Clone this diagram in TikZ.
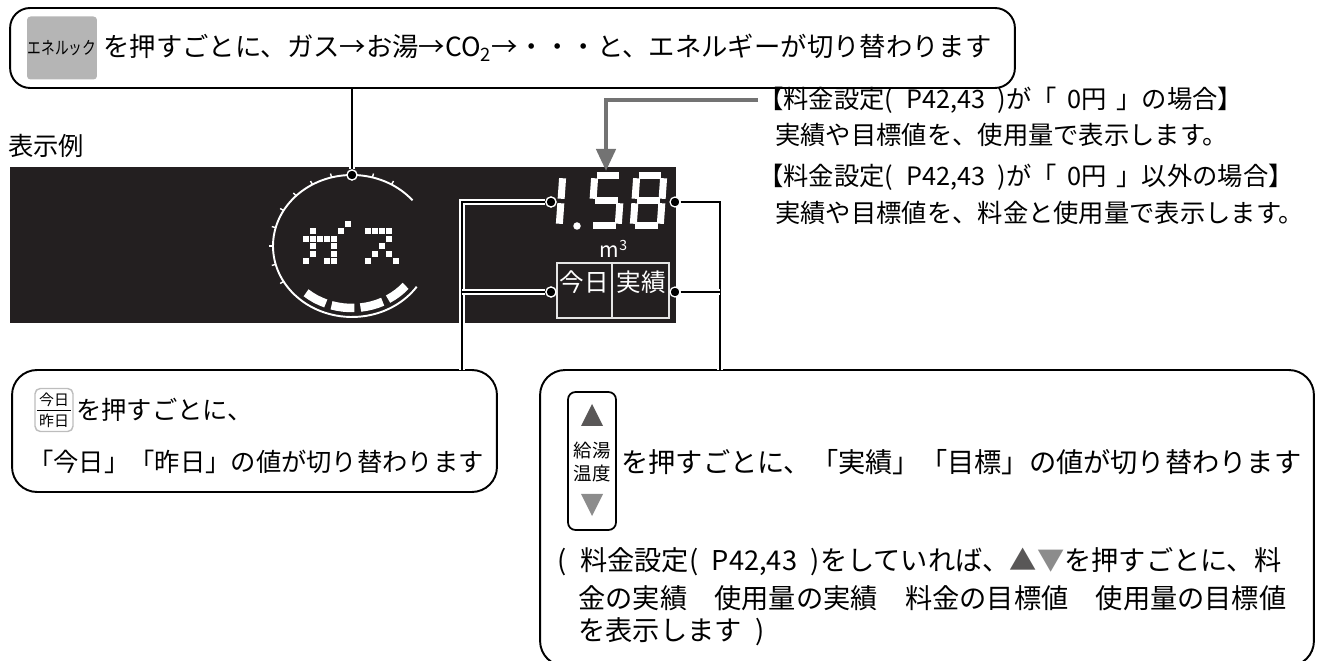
\documentclass[tikz,border=0pt]{standalone}
\usepackage{fontspec}
\setmainfont{Noto Sans CJK JP}
\usetikzlibrary{positioning,calc,arrows.meta}
\definecolor{lcdblack}{HTML}{231F20}
\definecolor{keygray}{HTML}{B5B5B5}
\definecolor{keyborder}{HTML}{BDBDBD}
\definecolor{arrowgray}{HTML}{737373}
\definecolor{updark}{HTML}{595757}
\definecolor{downlight}{HTML}{8C8C8C}
\newcommand{\lsp}{\hspace{0.5em}}
\newcommand{\wsp}{\hspace{0.4em}}

\begin{document}
\begin{tikzpicture}[x=0.02cm, y=-0.02cm,
    every node/.style={inner sep=0pt},
    notebox/.style={draw, line width=1.1pt, rounded corners=0.5cm},
    leadline/.style={line width=1.1pt, preaction={draw=white, line width=3pt}},
    leaddot/.style={circle, fill=black, draw=white, line width=0.7pt, minimum size=0.2cm},
    seg/.style={white, line width=0.14cm, shorten <=0.045cm, shorten >=0.045cm},
    txt/.style={anchor=west, font=\fontsize{14.4}{17}\selectfont},
    bigtxt/.style={anchor=west, font=\fontsize{15.5}{18}\selectfont}]
  \useasboundingbox (0,0) rectangle (1324,661);

  % callout boxes
  \node[notebox, rounded corners=0.4cm, minimum width=20.1cm, minimum height=1.6cm] (topbox) at (512.5,48) {};
  \node[notebox, minimum width=9.7cm, minimum height=2.44cm] (todaybox) at (254.5,431) {};
  \node[notebox, minimum width=15.48cm, minimum height=5.92cm] (resultbox) at (927,518) {};

  % top callout
  \node[fill=keygray, rounded corners=2pt, minimum width=1.4cm, minimum height=1.26cm,
        font=\fontsize{10}{11}\selectfont] (enekey) at (62,48) {\scalebox{0.78}[1]{エネルック}};
  \node[txt, font=\fontsize{15}{18}\selectfont] (toptext) at (103,48)
        {を押すごとに、ガス→お湯→CO\textsubscript{2}→・・・と、エネルギーが切り替わります};

  \node[txt] (sample) at (8,146) {表示例};

  % display
  \fill[lcdblack] (10,167) rectangle (676,323);

  % energy gauge
  \begin{scope}[shift={(352,246)}, y=0.02cm]
    \draw[white, line width=1.1pt] (40:79 and 71) arc[start angle=40, end angle=325, x radius=79, y radius=71];
    \foreach \a in {60,75,105,120,135,150,165,180,195,210}
      \draw[white, line width=0.8pt] (\a:79 and 71) -- (\a:83 and 75);
    \foreach \a in {229,253,277,301}
      \draw[white, line width=0.17cm] (\a:70 and 62) arc[start angle=\a, end angle=\a+19, x radius=70, y radius=62];
    \node[leaddot] (gpin) at (90:79 and 71) {};
  \end{scope}

  % dot matrix "gasu"
  \foreach \c/\r in {6/0,5/1,1/1,0/2,1/2,2/2,3/2,4/2,1/3,4/3,1/4,4/4,0/5,3/5,4/5}
    \fill[white] ({303+7*\c},{221+7.5*\r}) rectangle ++(6,6);
  \foreach \c/\r in {0/1,1/1,2/1,3/1,3/2,2/3,1/4,3/4,0/5,4/5}
    \fill[white] ({365+7*\c},{221+7.5*\r}) rectangle ++(6,6);

  % 7 segment value
  \begin{scope}[shift={(532,172)}, xslant=0.07]
    \foreach \xa/\ya/\xb/\yb in {31/4/31/29, 31/29/31/54}
      \draw[seg] (\xa,\ya) -- (\xb,\yb);
  \end{scope}
  \fill[white] (577,226) circle (0.075cm);
  \begin{scope}[shift={(591,172)}, xslant=0.07]
    \foreach \xa/\ya/\xb/\yb in {4/4/31/4, 4/4/4/29, 4/29/31/29, 31/29/31/54, 4/54/31/54}
      \draw[seg] (\xa,\ya) -- (\xb,\yb);
  \end{scope}
  \begin{scope}[shift={(633,172)}, xslant=0.07]
    \foreach \xa/\ya/\xb/\yb in {4/4/31/4, 4/4/4/29, 31/4/31/29, 4/29/31/29, 4/29/4/54, 31/29/31/54, 4/54/31/54}
      \draw[seg] (\xa,\ya) -- (\xb,\yb);
  \end{scope}
  \node[white, font=\fontsize{12}{14}\selectfont] (unit) at (614,249) {m\textsuperscript{3}};

  \draw[white!80!gray, line width=0.6pt] (557,263) rectangle (669,318) (612,263) -- (612,318);
  \node[white, font=\fontsize{14}{16}\selectfont] (daylbl) at (584,282) {今日};
  \node[white, font=\fontsize{14}{16}\selectfont] (kindlbl) at (641,282) {実績};

  \node[leaddot] (ldot1) at (551,202) {};
  \node[leaddot] (ldot2) at (551,292) {};
  \node[leaddot] (rdot1) at (675,202) {};
  \node[leaddot] (rdot2) at (675,292) {};
  \coordinate (jl) at (462,370);
  \coordinate (jr) at (720,370);
  \coordinate (dtop) at (606,171);

  % leads
  \draw[leadline] (topbox.south -| gpin) -- (gpin);
  \draw[leadline] (ldot1) -| (jl);
  \draw[leadline] (ldot2) -- (ldot2 -| jl);
  \draw[leadline] (rdot1) -| (jr);
  \draw[leadline] (rdot2) -- (rdot2 -| jr);
  \node[leaddot] at (gpin) {};
  \node[leaddot] at (ldot1) {};
  \node[leaddot] at (ldot2) {};

  % price setting notes
  \node[txt] (note1) at (758,100) {【料金設定(\lsp P42,43\lsp)が「\wsp 0円\wsp 」の場合】};
  \node[txt] (note2) at (775,135) {実績や目標値を、使用量で表示します。};
  \node[txt] (note3) at (758,177) {【料金設定(\lsp P42,43\lsp)が「\wsp 0円\wsp 」以外の場合】};
  \node[txt] (note4) at (775,213) {実績や目標値を、料金と使用量で表示します。};
  \draw[arrowgray, line width=0.09cm, -{Triangle[width=0.38cm, length=0.44cm]}] (note1.west) -| (dtop);

  % today / yesterday
  \node[draw=keyborder, fill=white, line width=0.8pt, rounded corners=3pt,
        minimum width=0.76cm, minimum height=0.86cm] (daykey) at (54,410) {};
  \node[font=\fontsize{8.5}{10}\selectfont] (daykeytop) at ($(daykey.center)+(0,-10)$) {今日};
  \node[font=\fontsize{8.5}{10}\selectfont] (daykeybot) at ($(daykey.center)+(0,11)$) {昨日};
  \draw[line width=0.4pt] ($(daykey.west)+(3,0)$) -- ($(daykey.east)+(-3,0)$);
  \node[txt] (daytext1) at (76,410) {を押すごとに、};
  \node[txt] (daytext2) at (28,462) {「今日」「昨日」の値が切り替わります};

  % result / target
  \node[draw, line width=1pt, rounded corners=0.15cm, minimum width=0.96cm, minimum height=2.76cm] (tempkey) at (592,461) {};
  \fill[updark] (581,426) -- (603,426) -- (592,404) -- cycle;
  \fill[downlight] (581,494) -- (603,494) -- (592,516) -- cycle;
  \node[font=\fontsize{10.5}{12}\selectfont] (tempkey1) at (592,451) {給湯};
  \node[font=\fontsize{10.5}{12}\selectfont] (tempkey2) at (592,474) {温度};
  \node[bigtxt] (resulttext) at (621,462) {を押すごとに、「実績」「目標」の値が切り替わります};
  \node[bigtxt] (paren1) at (557,562) {(\lsp 料金設定(\lsp P42,43\lsp)をしていれば、\textcolor{updark}{▲}\textcolor{downlight}{▼}を押すごとに、料};
  \node[bigtxt] (paren2) at (578,598) {金の実績　使用量の実績　料金の目標値　使用量の目標値};
  \node[bigtxt] (paren3) at (578,632) {を表示します\lsp)};
\end{tikzpicture}
\end{document}
